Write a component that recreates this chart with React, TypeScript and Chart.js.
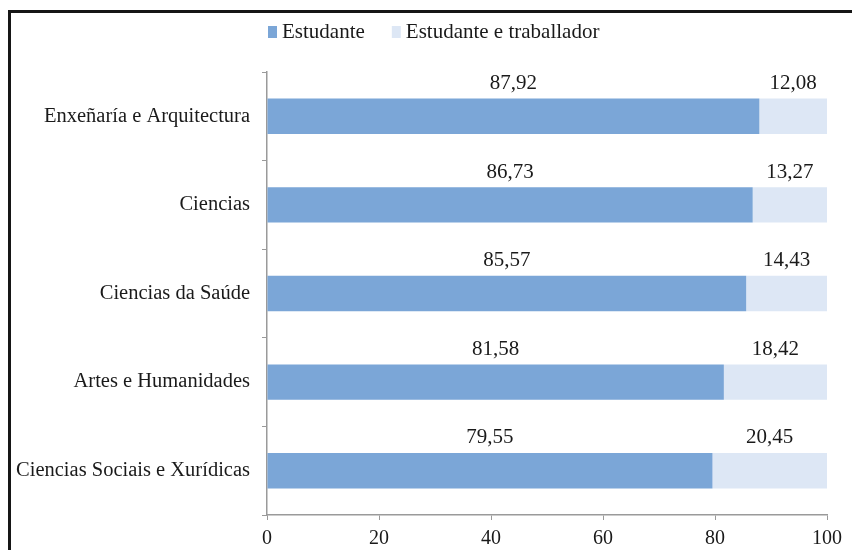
import React, { useEffect, useRef } from 'react';
import { Chart, registerables } from 'chart.js';

Chart.register(...registerables);

const categories = [
  'Enxeñaría e Arquitectura',
  'Ciencias',
  'Ciencias da Saúde',
  'Artes e Humanidades',
  'Ciencias Sociais e Xurídicas',
];
const estudante = [87.92, 86.73, 85.57, 81.58, 79.55];
const estudanteTraballador = [12.08, 13.27, 14.43, 18.42, 20.45];
const seriesNames = ['Estudante', 'Estudante e traballador'];
const xTickValues = [0, 20, 40, 60, 80, 100];

const COLORS = ['#7BA6D7', '#DDE7F5'];
const FONT = '"Liberation Serif", "Times New Roman", serif';
const TEXT = '#1a1a1a';
const AXIS = '#9a9a9a';

const fmt = (v: number) => v.toFixed(2).replace('.', ',');

const valueLabels = {
  id: 'valueLabels',
  afterDatasetsDraw(chart: any) {
    const ctx = chart.ctx;
    ctx.save();
    ctx.font = `21px ${FONT}`;
    ctx.fillStyle = TEXT;
    ctx.textAlign = 'center';
    ctx.textBaseline = 'middle';
    chart.data.datasets.forEach((ds: any, di: number) => {
      const meta = chart.getDatasetMeta(di);
      meta.data.forEach((el: any, i: number) => {
        const p = el.getProps(['x', 'y', 'base', 'height'], true);
        const cx = (p.x + p.base) / 2;
        const top = p.y - p.height / 2;
        ctx.fillText(fmt(ds.data[i]), cx, top - 15);
      });
    });
    ctx.restore();
  },
};

const topLegend = {
  id: 'topLegend',
  afterDraw(chart: any) {
    const ctx = chart.ctx;
    const area = chart.chartArea;
    ctx.save();
    ctx.font = `21px ${FONT}`;
    ctx.textBaseline = 'middle';
    ctx.textAlign = 'left';
    let x = area.left + 1;
    const cy = area.top - 40;
    chart.data.datasets.forEach((ds: any) => {
      ctx.fillStyle = ds.backgroundColor;
      ctx.fillRect(x, cy - 6, 9, 12);
      x += 14;
      ctx.fillStyle = TEXT;
      ctx.fillText(ds.label, x, cy);
      x += ctx.measureText(ds.label).width + 27;
    });
    ctx.restore();
  },
};

export default function App() {
  const ref = useRef<HTMLCanvasElement | null>(null);

  useEffect(() => {
    if (!ref.current) return;
    const chart = new Chart(ref.current, {
      type: 'bar',
      data: {
        labels: categories,
        datasets: [
          {
            label: seriesNames[0],
            data: estudante,
            backgroundColor: COLORS[0],
            borderWidth: 0,
            barPercentage: 0.4,
            categoryPercentage: 1,
          },
          {
            label: seriesNames[1],
            data: estudanteTraballador,
            backgroundColor: COLORS[1],
            borderWidth: 0,
            barPercentage: 0.4,
            categoryPercentage: 1,
          },
        ],
      },
      options: {
        indexAxis: 'y',
        animation: false,
        responsive: false,
        maintainAspectRatio: false,
        devicePixelRatio: 1,
        layout: { padding: { top: 72, right: 25, bottom: 0, left: 0 } },
        plugins: {
          legend: { display: false },
          tooltip: { enabled: false },
          title: { display: false },
        },
        scales: {
          x: {
            stacked: true,
            min: 0,
            max: 100,
            afterBuildTicks: (scale: any) => {
              scale.ticks = xTickValues.map((v) => ({ value: v }));
            },
            afterFit: (scale: any) => {
              scale.height = 35;
            },
            ticks: {
              color: TEXT,
              font: { family: FONT, size: 20 },
              padding: 7,
              maxRotation: 0,
              callback: (v: any) => String(v),
            },
            grid: {
              display: true,
              drawOnChartArea: false,
              drawTicks: true,
              tickLength: 5,
              color: AXIS,
            },
            border: { display: true, color: AXIS, width: 1.5 },
          },
          y: {
            stacked: true,
            afterFit: (scale: any) => {
              scale.width = 267;
            },
            ticks: {
              color: TEXT,
              font: { family: FONT, size: 20.5 },
              padding: 12,
            },
            grid: {
              display: true,
              offset: true,
              drawOnChartArea: false,
              drawTicks: true,
              tickLength: 5,
              color: AXIS,
            },
            border: { display: true, color: AXIS, width: 1.5 },
          },
        },
      },
      plugins: [valueLabels, topLegend],
    });
    return () => chart.destroy();
  }, []);

  return (
    <div
      style={{
        position: 'fixed',
        left: 0,
        top: 0,
        width: 852,
        height: 550,
        overflow: 'hidden',
        background: '#fff',
      }}
    >
      <div
        style={{
          position: 'absolute',
          left: 8,
          top: 10,
          width: 900,
          height: 600,
          borderTop: '3px solid #161616',
          borderLeft: '3px solid #161616',
        }}
      />
      <canvas
        ref={ref}
        width={852}
        height={550}
        style={{ position: 'absolute', left: 0, top: 0, width: 852, height: 550 }}
      />
    </div>
  );
}
